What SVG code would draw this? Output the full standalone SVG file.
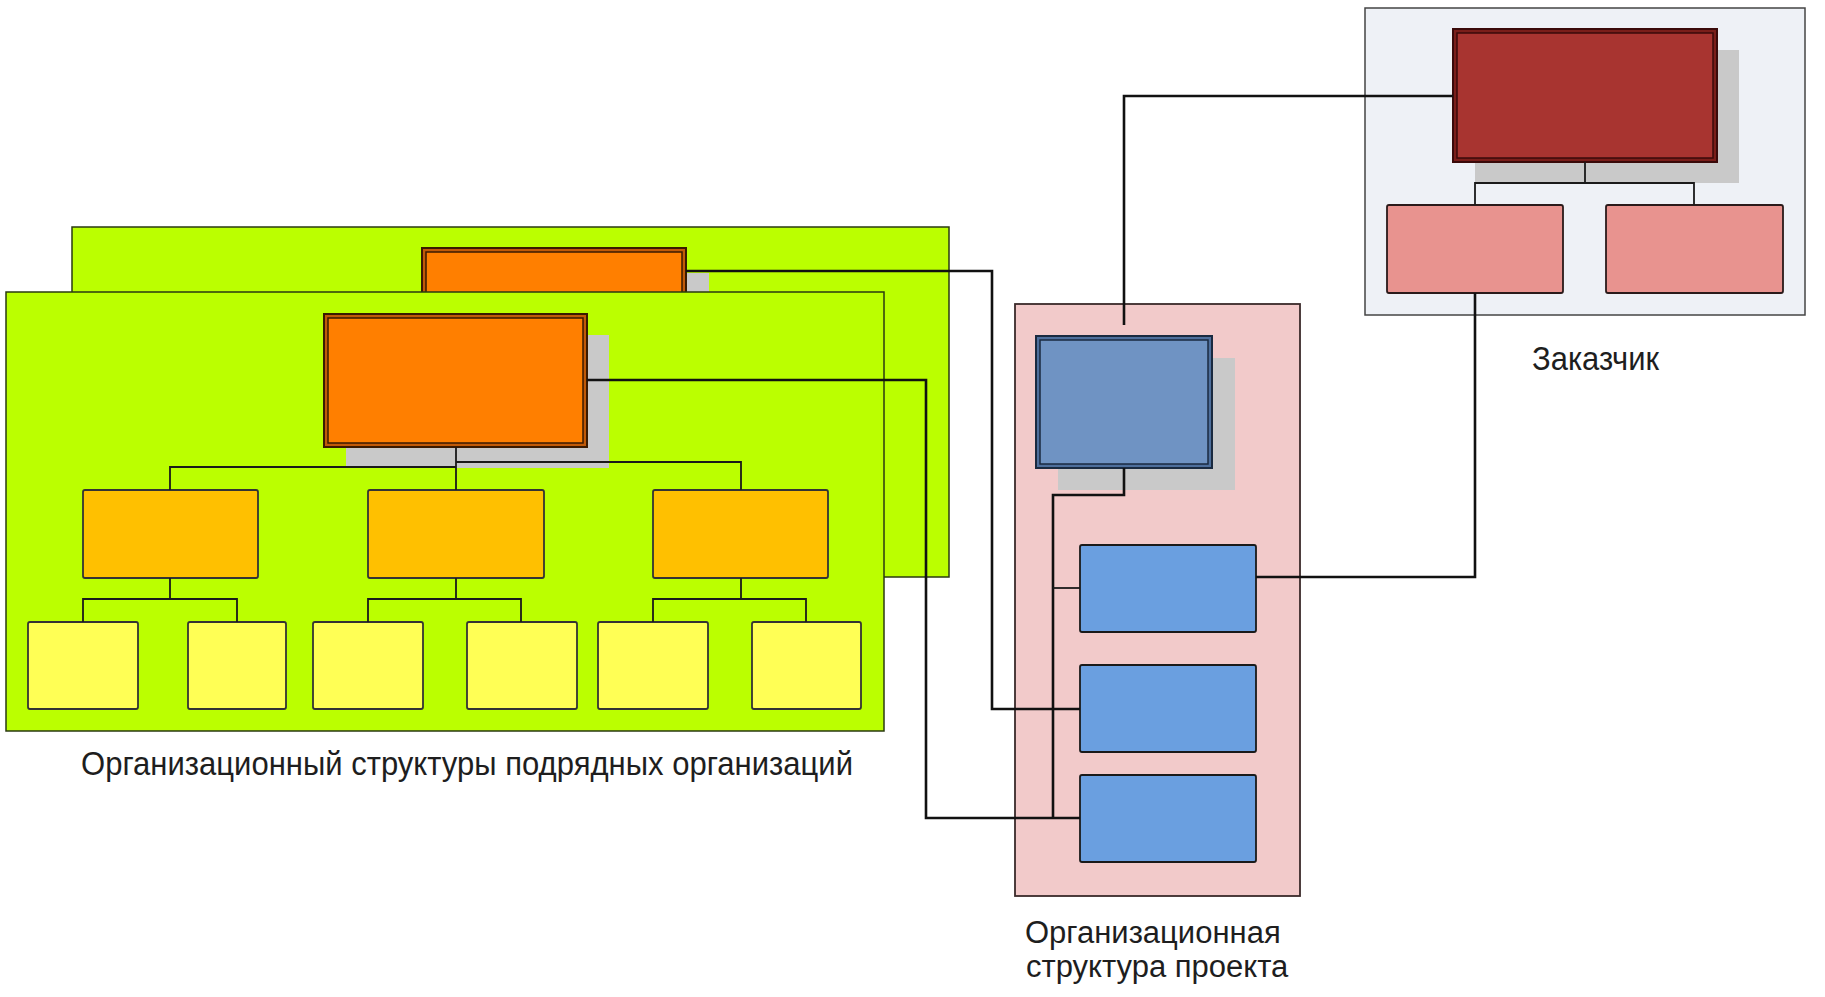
<svg xmlns="http://www.w3.org/2000/svg" width="1825" height="997" viewBox="0 0 1825 997">
<style>
.panel-g{fill:#BBFF00;stroke:#2a3a10;stroke-width:1.5}
.panel-p{fill:#F2CACA;stroke:#3a2a2a;stroke-width:1.8}
.panel-c{fill:#EEF1F6;stroke:#444;stroke-width:1.5}
.shadow{fill:#C9C9C9}
.org-o{fill:#C05A08;stroke:#3a1a00;stroke-width:2}
.org-oi{fill:#FF7F00;stroke:#3a1a00;stroke-width:1.5}
.mid{fill:#FFC000;stroke:#333;stroke-width:1.8}
.leaf{fill:#FFFF55;stroke:#333;stroke-width:1.8}
.blue-t{fill:#4E6F9C;stroke:#1a2a40;stroke-width:2}
.blue-ti{fill:#6F93C3;stroke:#1a2a40;stroke-width:1.5}
.blue{fill:#6A9FE0;stroke:#1a1a1a;stroke-width:1.8}
.red-t{fill:#7A1E1A;stroke:#3a0a0a;stroke-width:2}
.red-ti{fill:#A83430;stroke:#3a0a0a;stroke-width:1.5}
.red{fill:#E8938F;stroke:#2a1a1a;stroke-width:1.8}
.c{fill:none;stroke:#111;stroke-width:2.6}
.ci{fill:none;stroke:#1a1a1a;stroke-width:1.8}
.t{font-family:"Liberation Sans",Arial,sans-serif;fill:#1e1e1e}
</style>

<g id="contractors-back">
<rect class="panel-g" x="72" y="227" width="877" height="350"/>
<rect class="shadow" x="445" y="273" width="264" height="19"/>
<rect class="org-o" x="422" y="248" width="264" height="60"/>
<rect class="org-oi" x="426" y="252" width="256" height="52"/>
</g>

<g id="contractors-front">
<rect class="panel-g" x="6" y="292" width="878" height="439"/>
<rect class="shadow" x="346" y="335" width="263" height="133"/>
<rect class="org-o" x="324" y="314" width="263" height="133"/>
<rect class="org-oi" x="328" y="318" width="255" height="125"/>
</g>

<g id="mid1"><rect class="mid" x="83" y="490" width="175" height="88" rx="2"/></g>
<g id="mid2"><rect class="mid" x="368" y="490" width="176" height="88" rx="2"/></g>
<g id="mid3"><rect class="mid" x="653" y="490" width="175" height="88" rx="2"/></g>

<g id="leaf1"><rect class="leaf" x="28" y="622" width="110" height="87" rx="2"/></g>
<g id="leaf2"><rect class="leaf" x="188" y="622" width="98" height="87" rx="2"/></g>
<g id="leaf3"><rect class="leaf" x="313" y="622" width="110" height="87" rx="2"/></g>
<g id="leaf4"><rect class="leaf" x="467" y="622" width="110" height="87" rx="2"/></g>
<g id="leaf5"><rect class="leaf" x="598" y="622" width="110" height="87" rx="2"/></g>
<g id="leaf6"><rect class="leaf" x="752" y="622" width="109" height="87" rx="2"/></g>

<g id="contractors-label">
<text class="t" x="81" y="775" font-size="33" textLength="772" lengthAdjust="spacingAndGlyphs">Организационный структуры подрядных организаций</text>
</g>

<g id="project">
<rect class="panel-p" x="1015" y="304" width="285" height="592"/>
<rect class="shadow" x="1058" y="358" width="177" height="132"/>
<rect class="blue-t" x="1036" y="336" width="176" height="132"/>
<rect class="blue-ti" x="1040" y="340" width="168" height="124"/>
</g>
<g id="projA"><rect class="blue" x="1080" y="545" width="176" height="87" rx="2"/></g>
<g id="projB"><rect class="blue" x="1080" y="665" width="176" height="87" rx="2"/></g>
<g id="projC"><rect class="blue" x="1080" y="775" width="176" height="87" rx="2"/></g>
<g id="project-label">
<text class="t" x="1025" y="943" font-size="31">Организационная</text>
<text class="t" x="1026" y="977" font-size="31">структура проекта</text>
</g>

<g id="customer">
<rect class="panel-c" x="1365" y="8" width="440" height="307"/>
<rect class="shadow" x="1475" y="50" width="264" height="133"/>
<rect class="red-t" x="1453" y="29" width="264" height="133"/>
<rect class="red-ti" x="1457" y="33" width="256" height="125"/>
</g>
<g id="custL"><rect class="red" x="1387" y="205" width="176" height="88" rx="2"/></g>
<g id="custR"><rect class="red" x="1606" y="205" width="177" height="88" rx="2"/></g>
<g id="customer-label">
<text class="t" x="1532" y="370" font-size="33" textLength="127" lengthAdjust="spacingAndGlyphs">Заказчик</text>
</g>

<g id="connectors">
<path class="ci" d="M456 447V467M170 490V467H456M456 462H741V490M456 462V490"/>
<path class="ci" d="M170 578V599M83 622V599H237V622"/>
<path class="ci" d="M456 578V599M368 622V599H521V622"/>
<path class="ci" d="M741 578V599M653 622V599H806V622"/>
<path class="ci" d="M1585 162V183M1475 205V183H1694V205"/>
<path class="c" d="M1124 468V495H1053V818"/>
<path class="ci" d="M1053 588H1080"/>
<path class="c" d="M686 271H992V709H1080"/>
<path class="c" d="M587 380H926V818H1080"/>
<path class="c" d="M1124 325V96H1453"/>
<path class="c" d="M1256 577H1475V293"/>
</g>
</svg>
